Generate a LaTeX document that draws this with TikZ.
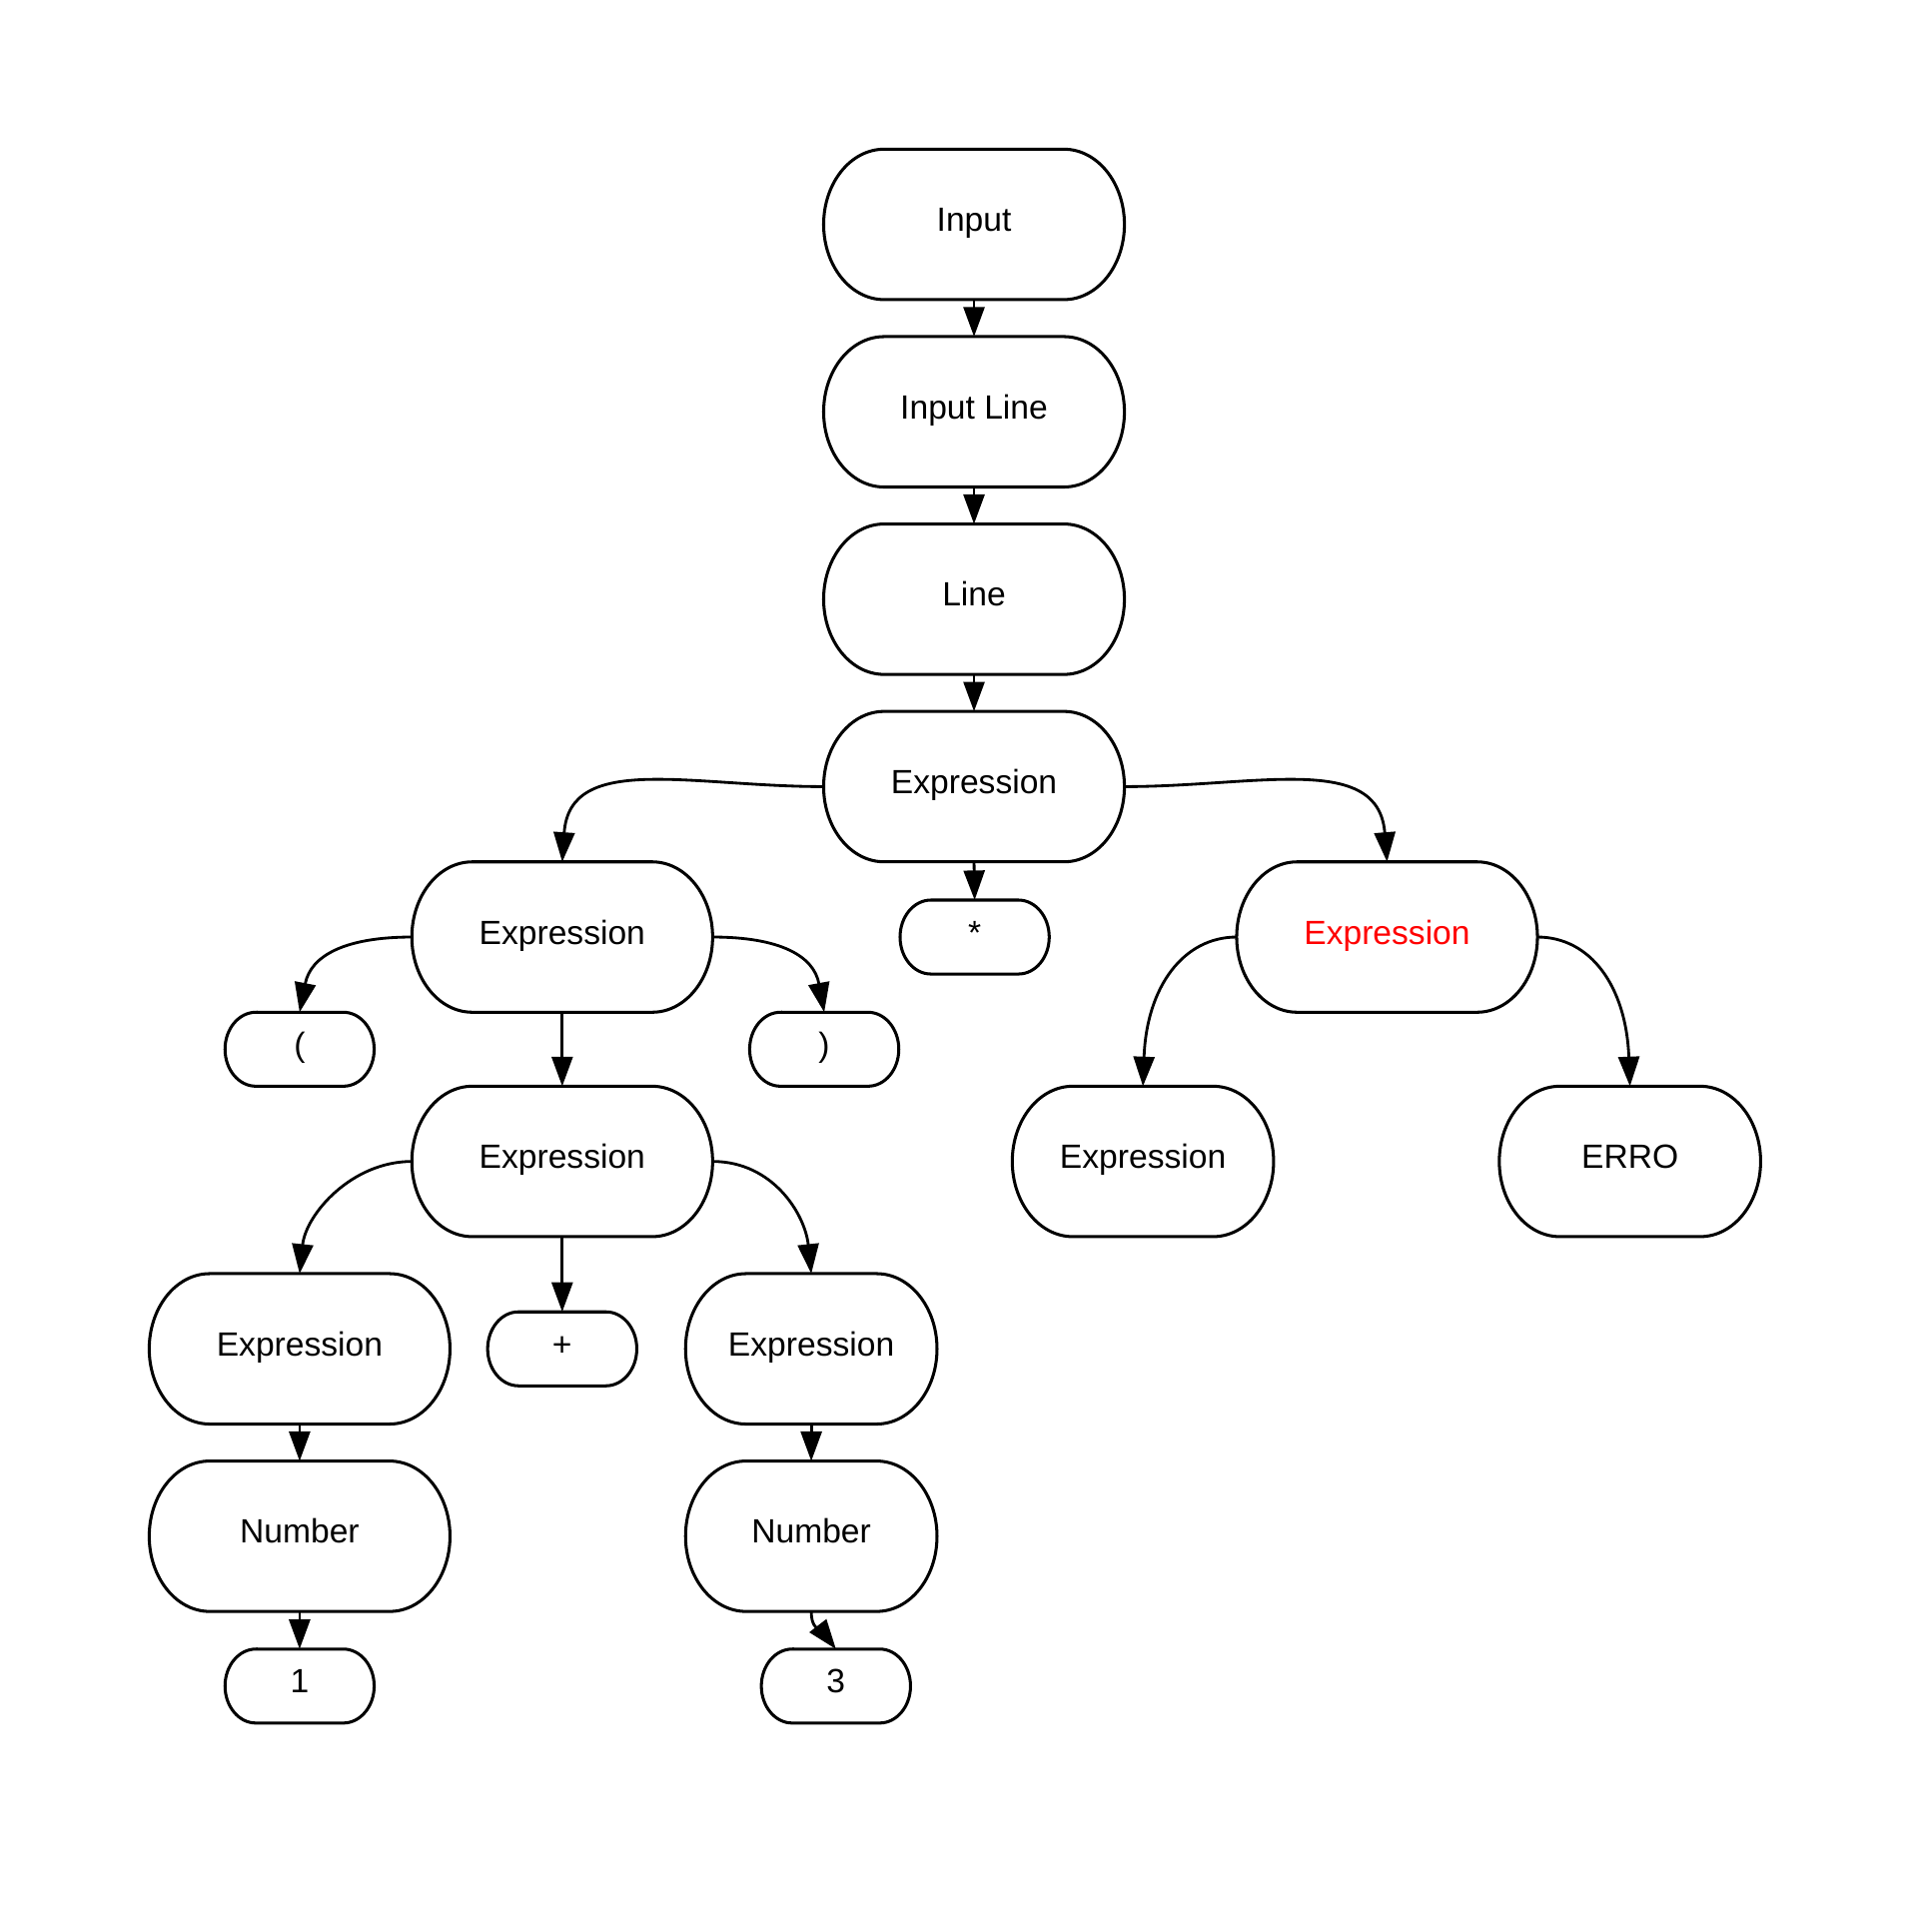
\documentclass[tikz,border=0pt]{standalone}
\usepackage{fontspec}
\setmainfont{Liberation Sans}
\usetikzlibrary{arrows.meta}
\definecolor{errred}{RGB}{255,0,0}
\begin{document}
\begin{tikzpicture}[x=0.02cm,y=-0.02cm,
        bigbox/.style={rectangle,minimum width=4.88cm,minimum height=2.44cm,inner sep=0pt,outer sep=0pt,text height=0.39cm,text depth=0.16cm,font=\fontsize{15.5}{18}\selectfont},
        smallbox/.style={bigbox,minimum width=2.42cm,minimum height=1.2cm},
        boxline/.style={line width=1.4pt},
        arr/.style={line width=1.3pt,-{Triangle[length=0.48cm,width=0.34cm]}}]
        \useasboundingbox (0,0) rectangle (1567,1553);

        %place the chain at the top
        \node[bigbox] (input) at (790,182) {Input};
        \node[bigbox] (inline) at (790,334) {Input Line};
        \node[bigbox] (line) at (790,486) {Line};
        \node[bigbox] (expr) at (790,638) {Expression};
        %place second level
        \node[bigbox] (exprL) at (456,760) {Expression};
        \node[smallbox] (star) at (790.5,760) {*};
        \node[bigbox,text=errred] (exprR) at (1125,760) {Expression};
        %place third level
        \node[smallbox] (lpar) at (243,851) {(};
        \node[smallbox] (rpar) at (668.5,851) {)};
        \node[bigbox] (exprLL) at (456,942) {Expression};
        \node[bigbox,minimum width=4.24cm] (exprRL) at (927,942) {Expression};
        \node[bigbox,minimum width=4.24cm] (erro) at (1322,942) {ERRO};
        %place fourth level
        \node[bigbox] (exprA) at (243,1094) {Expression};
        \node[smallbox] (plus) at (456,1094) {+};
        \node[bigbox,minimum width=4.08cm] (exprB) at (658,1094) {Expression};
        \node[bigbox] (numA) at (243,1246) {Number};
        \node[bigbox,minimum width=4.08cm] (numB) at (658,1246) {Number};
        \node[smallbox] (one) at (243,1367.5) {1};
        \node[smallbox] (three) at (678,1367.5) {3};

        %draw the rounded outlines
        \foreach \n/\rx/\ry in {input/0.98cm/1.22cm,inline/0.98cm/1.22cm,line/0.98cm/1.22cm,expr/0.98cm/1.22cm,
                exprL/0.98cm/1.22cm,exprR/0.98cm/1.22cm,exprLL/0.98cm/1.22cm,exprRL/0.98cm/1.22cm,erro/0.98cm/1.22cm,
                exprA/0.98cm/1.22cm,exprB/0.98cm/1.22cm,numA/0.98cm/1.22cm,numB/0.98cm/1.22cm,
                star/0.5cm/0.6cm,lpar/0.5cm/0.6cm,rpar/0.5cm/0.6cm,plus/0.5cm/0.6cm,one/0.5cm/0.6cm,three/0.5cm/0.6cm}{
            \draw[boxline] ([xshift=\rx]\n.north west) -- ([xshift=-\rx]\n.north east)
                arc[start angle=90,end angle=-90,x radius=\rx,y radius=\ry]
                -- ([xshift=\rx]\n.south west)
                arc[start angle=270,end angle=90,x radius=\rx,y radius=\ry] -- cycle;
        }

        %straight connectors
        \draw[arr] (input.south) -- (inline.north);
        \draw[arr] (inline.south) -- (line.north);
        \draw[arr] (line.south) -- (expr.north);
        \draw[arr] (expr.south) -- (star.north);
        \draw[arr] (exprL.south) -- (exprLL.north);
        \draw[arr] (exprLL.south) -- (plus.north);
        \draw[arr] (exprA.south) -- (numA.north);
        \draw[arr] (exprB.south) -- (numB.north);
        \draw[arr] (numA.south) -- (one.north);
        %curved connectors
        \draw[arr] (expr.west) .. controls (560,638) and (462,610) .. (exprL.north);
        \draw[arr] (expr.east) .. controls (1020,638) and (1118,610) .. (exprR.north);
        \draw[arr] (exprL.west) .. controls (280,760) and (252,775) .. (lpar.north);
        \draw[arr] (exprL.east) .. controls (632,760) and (660,775) .. (rpar.north);
        \draw[arr] (exprR.west) .. controls (960,760) and (930,800) .. (exprRL.north);
        \draw[arr] (exprR.east) .. controls (1290,760) and (1319,800) .. (erro.north);
        \draw[arr] (exprLL.west) .. controls (285,942) and (248,985) .. (exprA.north);
        \draw[arr] (exprLL.east) .. controls (627,942) and (653,985) .. (exprB.north);
        \draw[arr] (numB.south) .. controls (658,1322) and (666,1322) .. (three.north);
      \end{tikzpicture}
\end{document}
